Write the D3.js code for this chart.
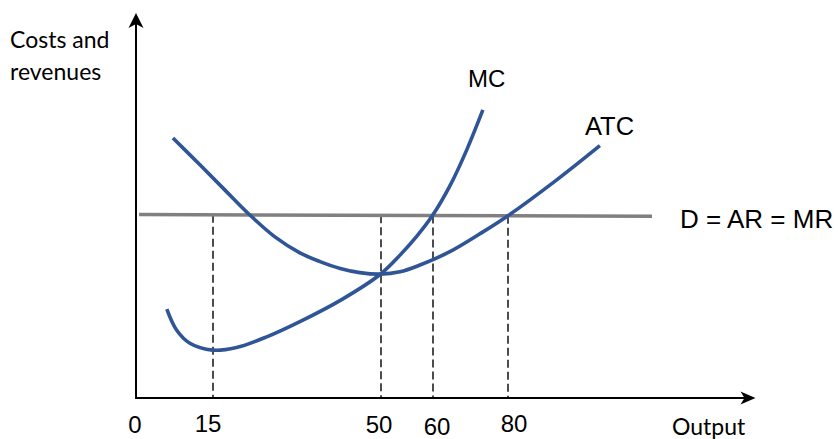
<!DOCTYPE html>
<html>
<head>
<meta charset="utf-8">
<script src="https://cdn.jsdelivr.net/npm/d3@7"></script>
<style>
  body{margin:0;background:#fff;}
  svg{display:block;}
</style>
</head>
<body>
<div id="graphique"></div>
<script>
// cost curves of a firm in perfect competition
const outputTicks=[0,15,50,60,80];
const dashedAt=[15,50,60,80];
// marginal cost
const mcOutput=[6,7.9,10.5,14.9,19.9,26.2,33.1,41.8,49.8,53.65,56.9,59.9,64.5,69,73.3];
const mcCost=[23.4,17.9,14.4,12.6,13.3,16.1,20.1,25.9,32.5,37.6,42.6,48,55.8,65.3,75.8];
// average total cost
const atcOutput=[7.2,12.5,17.5,22.3,27.9,33.1,37.3,41.5,45.6,49.8,53.65,57.5,64.5,72.5,79.9,93,104.5];
const atcCost=[68.4,61.3,54.7,48.6,42.4,38.2,35.9,34.1,33,32.6,33.2,35,38.5,43.2,47.9,57.4,66.4];
// demand = average revenue = marginal revenue
const dOutput=[0.6,118.4];
const dPrice=[48.3,47.8];

const width=838,height=439;
const blue="#2F5597";
const sans="Liberation Sans, Arial, sans-serif";

const svg=d3.select("#graphique").append("svg")
    .attr("width",width).attr("height",height);

// the sketch isn't drawn to scale, so the x scale is piecewise
const x_scale=d3.scaleLinear()
    .domain([0,15,50,60,80,146])
    .range([136,213,381,433,508,755.5]);
const y_scale=d3.scaleLinear().domain([0,100]).range([398,18]);

const line=d3.line()
    .x(d=>x_scale(d[0])).y(d=>y_scale(d[1]))
    .curve(d3.curveCatmullRom.alpha(0.5));

// axes
const x0=x_scale(0),y0=y_scale(0);
const yTop=y_scale(101.3),xEnd=x_scale(146);
svg.append("line").attr("x1",x0).attr("y1",y0).attr("x2",x0).attr("y2",yTop+6)
    .attr("stroke","black").attr("stroke-width",2);
svg.append("line").attr("x1",x0-1).attr("y1",y0).attr("x2",xEnd-6).attr("y2",y0)
    .attr("stroke","black").attr("stroke-width",2);
svg.append("path")
    .attr("d",`M${x0},${yTop} L${x0+7.5},${yTop+15} L${x0},${yTop+11} L${x0-7.5},${yTop+15} Z`)
    .attr("fill","black");
svg.append("path")
    .attr("d",`M${xEnd},${y0} L${xEnd-15},${y0-6.5} L${xEnd-11},${y0} L${xEnd-15},${y0+6.5} Z`)
    .attr("fill","black");

// dashed guides from the price line down to the axis
const dLevel=d3.scaleLinear().domain(dOutput).range(dPrice);
svg.selectAll("line.guide").data(dashedAt).enter().append("line")
    .classed("guide",true)
    .attr("x1",d=>x_scale(d)).attr("x2",d=>x_scale(d))
    .attr("y1",d=>y_scale(dLevel(d))).attr("y2",y0)
    .attr("stroke","black").attr("stroke-width",1.4)
    .attr("stroke-dasharray","8,4");

// price line
svg.append("path")
    .datum(d3.zip(dOutput,dPrice))
    .attr("d",d3.line().x(d=>x_scale(d[0])).y(d=>y_scale(d[1])))
    .attr("stroke","#808080").attr("stroke-width",3.5).attr("fill","none");

// curves
svg.append("path").datum(d3.zip(mcOutput,mcCost)).attr("d",line)
    .attr("stroke",blue).attr("stroke-width",3.6).attr("fill","none");
svg.append("path").datum(d3.zip(atcOutput,atcCost)).attr("d",line)
    .attr("stroke",blue).attr("stroke-width",3.6).attr("fill","none");

// tick labels (hand placed in the original, so nudged a little)
const nudge={0:-1,15:-5,50:-2,60:4,80:6};
const lift={0:0,15:-1,50:0,60:2,80:-1};
svg.selectAll("text.tick").data(outputTicks).enter().append("text")
    .classed("tick",true)
    .attr("x",d=>x_scale(d)+nudge[d]).attr("y",d=>y0+35+lift[d])
    .attr("text-anchor","middle")
    .attr("font-family",sans).attr("font-size",24)
    .text(d=>d);

// labels
svg.append("text").attr("x",468).attr("y",87)
    .attr("font-family",sans).attr("font-size",24).text("MC");
svg.append("text").attr("x",585).attr("y",135)
    .attr("font-family",sans).attr("font-size",25.5).text("ATC");
svg.append("text").attr("x",680).attr("y",228)
    .attr("font-family",sans).attr("font-size",26).text("D = AR = MR");

svg.append("text").attr("x",10).attr("y",48)
    .attr("font-family","Lato, sans-serif").attr("font-size",23).text("Costs and");
svg.append("text").attr("x",10).attr("y",80)
    .attr("font-family","Lato, sans-serif").attr("font-size",23).text("revenues");
svg.append("text").attr("x",672).attr("y",435)
    .attr("font-family","Lato, sans-serif").attr("font-size",23).text("Output");
</script>
</body>
</html>
